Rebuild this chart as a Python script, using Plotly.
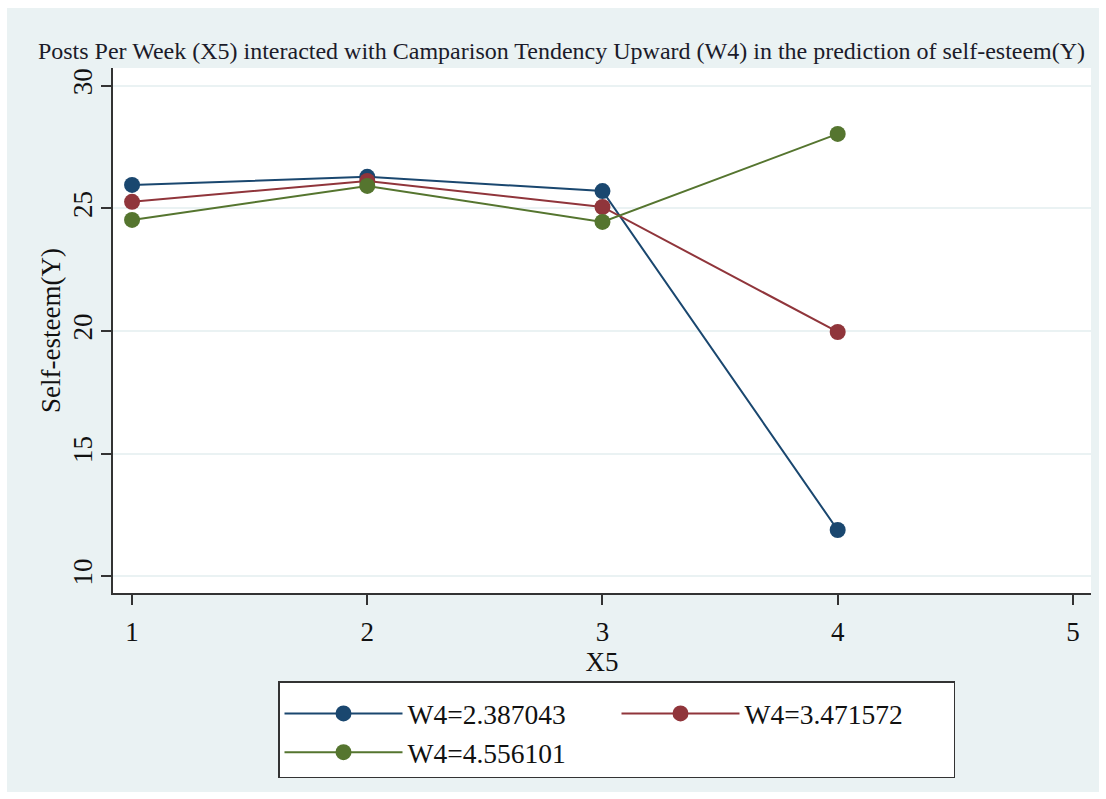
import plotly.graph_objects as go

x_vals = [1, 2, 3, 4]
w4_low = [25.96, 26.29, 25.71, 11.88]
w4_mid = [25.27, 26.12, 25.06, 19.96]
w4_high = [24.53, 25.92, 24.45, 28.04]
series_names = ["W4=2.387043", "W4=3.471572", "W4=4.556101"]
colors = ["#1A476F", "#90353B", "#55752F"]
x_ticks = [1, 2, 3, 4, 5]
y_ticks = [10, 15, 20, 25, 30]

title_text = "Posts Per Week (X5) interacted with Camparison Tendency Upward (W4) in the prediction of self-esteem(Y)"

FONT = "'Liberation Serif', 'Times New Roman', Times, serif"
BG = "#EAF2F3"

fig = go.Figure()
for ys, name, c in zip([w4_low, w4_mid, w4_high], series_names, colors):
    fig.add_trace(go.Scatter(
        x=x_vals, y=ys, name=name, mode="lines+markers",
        line=dict(color=c, width=2),
        marker=dict(color=c, size=16),
    ))

W, H = 1106, 799
ml, mr, mt, mb = 113, 15, 68, 206
pw, ph = W - ml - mr, H - mt - mb

def px_x(p):
    return (p - ml) / pw

def px_y(p):
    return (H - mb - p) / ph

fig.update_layout(
    width=W, height=H,
    margin=dict(l=ml, r=mr, t=mt, b=mb, pad=0),
    paper_bgcolor="white",
    plot_bgcolor="white",
    font=dict(family=FONT, color="#111111", size=27),
    title=dict(text=title_text, x=561.5 / W, xanchor="center",
               y=1 - 51 / H, yanchor="middle",
               font=dict(family=FONT, size=24, color="#1b1b2a")),
    shapes=[
        dict(type="rect", xref="paper", yref="paper", layer="below",
             x0=px_x(7), x1=px_x(1099), y0=px_y(792), y1=px_y(8),
             fillcolor=BG, line=dict(width=0)),
        dict(type="rect", xref="paper", yref="paper", layer="below",
             x0=0, x1=1, y0=0, y1=1,
             fillcolor="white", line=dict(width=0)),
    ],
    xaxis=dict(
        range=[0.919, 5.077], tickvals=x_ticks, ticks="outside", ticklen=10,
        tickwidth=1.5, tickcolor="#333333", showline=True, linecolor="#333333",
        linewidth=1.5, showgrid=False, zeroline=False,
        tickfont=dict(size=27), ticklabelstandoff=4,
        title=dict(text="X5", font=dict(size=27), standoff=0),
    ),
    yaxis=dict(
        range=[9.31, 30.73], tickvals=y_ticks, ticks="outside", ticklen=10,
        tickwidth=1.5, tickcolor="#333333", showline=True, linecolor="#333333",
        linewidth=1.5, showgrid=True, gridcolor=BG, gridwidth=2, zeroline=False,
        tickangle=-90, tickfont=dict(size=27), ticklabelstandoff=-2,
        title=dict(text="Self-esteem(Y)", font=dict(size=27), standoff=0),
    ),
    legend=dict(
        orientation="h", x=px_x(278), xanchor="left", y=px_y(681), yanchor="top",
        bgcolor="white", bordercolor="#333333", borderwidth=1.5,
        font=dict(size=27.5, family=FONT, color="#111111"),
        itemwidth=118,
        entrywidth=204, entrywidthmode="pixels",
        title=dict(text="&nbsp;", side="top", font=dict(size=5)),
    ),
)

fig.write_html("out.html")
